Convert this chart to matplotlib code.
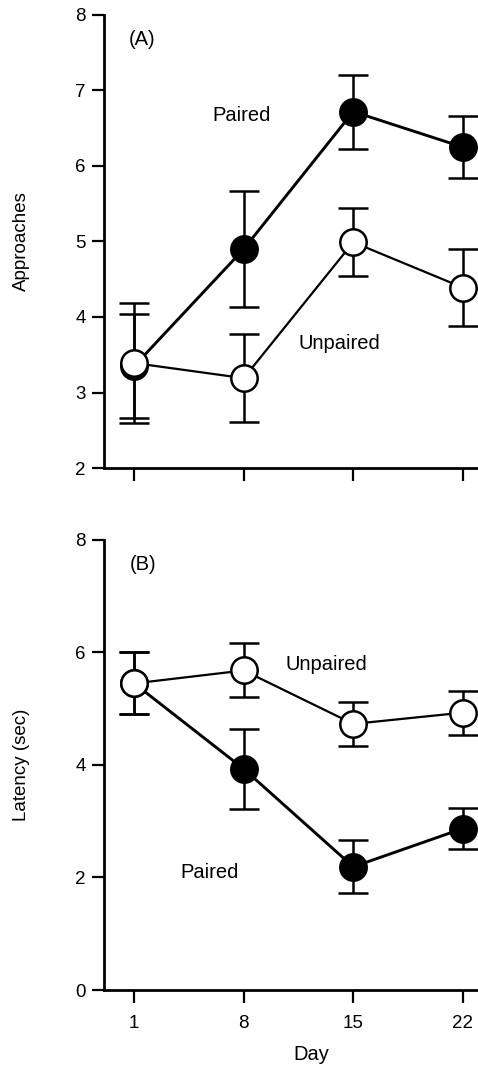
import matplotlib.pyplot as plt

plt.rcParams['font.family'] = ['Liberation Sans', 'DejaVu Sans']

days = [1, 8, 15, 22]

# (A) approaches
appr_paired = [3.35, 4.9, 6.72, 6.25]
appr_paired_err = [0.69, 0.77, 0.49, 0.41]
appr_unpaired = [3.39, 3.19, 4.99, 4.39]
appr_unpaired_err = [0.79, 0.58, 0.45, 0.51]

# (B) latency (sec)
lat_paired = [5.45, 3.93, 2.19, 2.87]
lat_paired_err = [0.55, 0.71, 0.47, 0.36]
lat_unpaired = [5.45, 5.68, 4.73, 4.93]
lat_unpaired_err = [0.55, 0.48, 0.39, 0.39]


def draw_panel(ax, paired, paired_err, unpaired, unpaired_err):
    common = dict(marker='o', markersize=19, capsize=10.5, elinewidth=1.8,
                  capthick=1.8, ecolor='black', color='black', clip_on=False)
    ax.errorbar(days, paired, yerr=paired_err, lw=2.1, mfc='black',
                mec='black', mew=1.8, zorder=3, **common)
    ax.errorbar(days, unpaired, yerr=unpaired_err, lw=1.6, mfc='white',
                mec='black', mew=1.8, zorder=4, **common)

    for side in ['top', 'right']:
        ax.spines[side].set_visible(False)
    for side in ['left', 'bottom']:
        ax.spines[side].set_linewidth(2.0)
    ax.set_xlim(-0.93, 22.9)
    ax.set_xticks(days)
    ax.tick_params(axis='both', direction='out', length=9, width=1.6,
                   labelsize=13.5)
    ax.tick_params(axis='y', pad=4)
    ax.tick_params(axis='x', pad=9)


fig = plt.figure(figsize=(4.78, 10.69), dpi=100)

axA = fig.add_axes([0.2176, 0.5622, 0.780, 0.4238])
draw_panel(axA, appr_paired, appr_paired_err, appr_unpaired, appr_unpaired_err)
axA.set_ylim(2, 8)
axA.set_yticks(range(2, 9))
axA.set_xticklabels([])
axA.set_ylabel('Approaches', fontsize=13.5, va='center')
axA.yaxis.set_label_coords(-0.2225, 0.5)
axA.text(7.85, 6.67, 'Paired', fontsize=14.5, ha='center', va='center')
axA.text(14.1, 3.65, 'Unpaired', fontsize=14.5, ha='center', va='center')
axA.text(1.5, 7.67, '(A)', fontsize=14.5, ha='center', va='center')

axB = fig.add_axes([0.2176, 0.0739, 0.780, 0.421])
draw_panel(axB, lat_paired, lat_paired_err, lat_unpaired, lat_unpaired_err)
axB.set_ylim(0, 8)
axB.set_yticks(range(0, 9, 2))
axB.set_xticklabels([str(d) for d in days])
axB.set_ylabel('Latency (sec)', fontsize=13.5, va='center')
axB.yaxis.set_label_coords(-0.2225, 0.5)
axB.set_xlabel('Day', fontsize=14.5, va='center')
axB.xaxis.set_label_coords(0.557, -0.144)
axB.text(13.3, 5.78, 'Unpaired', fontsize=14.5, ha='center', va='center')
axB.text(5.83, 2.08, 'Paired', fontsize=14.5, ha='center', va='center')
axB.text(1.55, 7.56, '(B)', fontsize=14.5, ha='center', va='center')

fig.savefig('out.png', dpi=100)
